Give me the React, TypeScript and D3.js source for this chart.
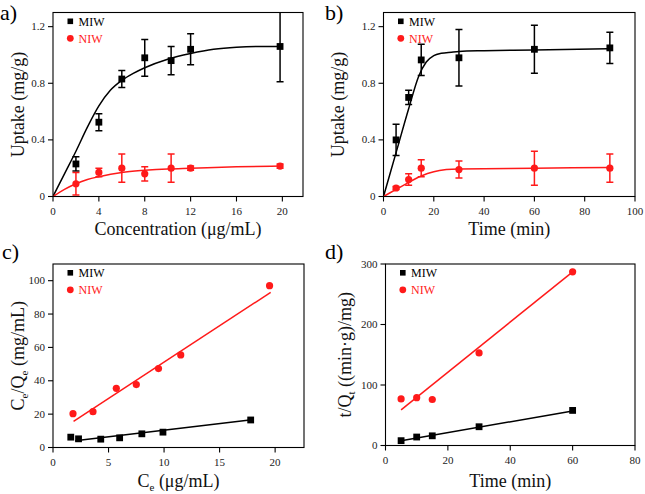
import React from "react";
import * as d3 from "d3";

// ---------- DATA ----------
// Panel a: uptake vs concentration
const aX = [2, 4, 6, 8, 10.3, 12, 19.8];
const aMIW = [0.23, 0.525, 0.83, 0.98, 0.96, 1.04, 1.06];
const aMIWErr = [0.05, 0.06, 0.06, 0.13, 0.1, 0.11, 0.25];
const aNIW = [0.09, 0.17, 0.2, 0.16, 0.2, 0.2, 0.215];
const aNIWErr = [0.08, 0.03, 0.1, 0.05, 0.1, 0.015, 0.015];
const aMIWFitX = [0, 1, 2, 3, 4, 5, 6, 7, 8, 10, 12, 14, 16, 18, 20];
const aMIWFitY = [0, 0.16, 0.32, 0.49, 0.64, 0.75, 0.82, 0.87, 0.91, 0.97, 1.01, 1.04, 1.055, 1.06, 1.06];
const aNIWFitX = [0, 1, 2, 3, 4, 6, 8, 10, 12, 16, 20];
const aNIWFitY = [0, 0.05, 0.09, 0.12, 0.14, 0.17, 0.185, 0.195, 0.2, 0.21, 0.215];

// Panel b: uptake vs time
const bX = [5, 10, 15, 30, 60, 90];
const bMIW = [0.4, 0.7, 0.965, 0.98, 1.04, 1.05];
const bMIWErr = [0.11, 0.05, 0.11, 0.2, 0.17, 0.11];
const bNIW = [0.06, 0.12, 0.2, 0.19, 0.2, 0.2];
const bNIWErr = [0.01, 0.04, 0.06, 0.06, 0.12, 0.1];
const bMIWFitX = [0, 5, 10, 14, 17, 20, 23, 27, 30, 40, 60, 90];
const bMIWFitY = [0, 0.31, 0.62, 0.85, 0.95, 0.995, 1.012, 1.02, 1.025, 1.03, 1.035, 1.045];
const bNIWFitX = [0, 5, 10, 15, 20, 25, 30, 60, 90];
const bNIWFitY = [0, 0.05, 0.1, 0.145, 0.175, 0.19, 0.195, 0.2, 0.205];

// Panel c: Ce/Qe vs Ce
const cMIWX = [1.6, 2.3, 4.3, 6, 8, 9.9, 17.8];
const cMIWY = [6.2, 5.2, 5, 5.8, 8.2, 9.2, 16.5];
const cNIWX = [1.8, 3.6, 5.7, 7.5, 9.5, 11.5, 19.5];
const cNIWY = [20.3, 21.5, 35.5, 37.7, 47.3, 55.5, 97];
const cMIWLineX = [2.0, 17.9];
const cMIWLineY = [4.0, 16.6];
const cNIWLineX = [1.85, 19.6];
const cNIWLineY = [15.6, 93];

// Panel d: t/Qt vs time
const dX = [5, 10, 15, 30, 60];
const dMIW = [8, 14, 16, 31, 58];
const dNIW = [77, 79, 76, 153, 287];
const dMIWLineX = [5, 60];
const dMIWLineY = [8, 57];
const dNIWLineX = [5, 60];
const dNIWLineY = [59, 287];

// Tick labels
const aXTicks = [0, 4, 8, 12, 16, 20];
const bXTicks = [0, 20, 40, 60, 80, 100];
const abYTicks = [0, 0.4, 0.8, 1.2];
const cXTicks = [0, 5, 10, 15, 20];
const cYTicks = [0, 20, 40, 60, 80, 100];
const dXTicks = [0, 20, 40, 60, 80];
const dYTicks = [0, 100, 200, 300];

const RED = "#ff1a1a";
const FONT = "Liberation Serif, DejaVu Serif, serif";
const fs = (size: number): React.CSSProperties => ({ fontFamily: FONT, fontSize: size });

type Pt = { x: number; y: number; e?: number };

function zip(xs: number[], ys: number[], es?: number[]): Pt[] {
  return xs.map((x, i) => ({ x, y: ys[i], e: es ? es[i] : undefined }));
}

interface PanelProps {
  box: { l: number; r: number; t: number; b: number };
  xDomain: [number, number];
  yDomain: [number, number];
  xTicks: number[];
  yTicks: number[];
  yFmt: (v: number) => string;
  label: string;
  xTitle: React.ReactNode;
  yTitle: React.ReactNode;
  yTitleX: number;
  xTitleY: number;
  labelPos: [number, number];
  miw: Pt[];
  niw: Pt[];
  miwFit: Pt[];
  niwFit: Pt[];
  smooth: boolean;
}

function Panel(p: PanelProps) {
  const { box } = p;
  const x = d3.scaleLinear().domain(p.xDomain).range([box.l, box.r]);
  const y = d3.scaleLinear().domain(p.yDomain).range([box.b, box.t]);
  const line = d3
    .line<Pt>()
    .x((d) => x(d.x))
    .y((d) => y(d.y))
    .curve(p.smooth ? d3.curveMonotoneX : d3.curveLinear);
  const clipId = "clip-" + p.label.replace(/\W/g, "");
  const cap = 3.5;
  const renderErr = (pts: Pt[], color: string) =>
    pts
      .filter((d) => d.e !== undefined)
      .map((d, i) => {
        const top = y(d.y + (d.e as number));
        const bot = y(d.y - (d.e as number));
        const cx = x(d.x);
        return (
          <g key={i} stroke={color} strokeWidth={1.5}>
            <line x1={cx} x2={cx} y1={top} y2={bot} />
            <line x1={cx - cap} x2={cx + cap} y1={top} y2={top} />
            <line x1={cx - cap} x2={cx + cap} y1={bot} y2={bot} />
          </g>
        );
      });
  return (
    <g>
      <defs>
        <clipPath id={clipId}>
          <rect x={box.l} y={box.t} width={box.r - box.l} height={box.b - box.t} />
        </clipPath>
      </defs>
      <g clipPath={`url(#${clipId})`}>
        <path d={line(p.miwFit) || ""} fill="none" stroke="#000" strokeWidth={1.5} />
        <path d={line(p.niwFit) || ""} fill="none" stroke={RED} strokeWidth={1.5} />
        {renderErr(p.miw, "#000")}
        {renderErr(p.niw, RED)}
        {p.niw.map((d, i) => (
          <circle key={"n" + i} cx={x(d.x)} cy={y(d.y)} r={3.6} fill={RED} />
        ))}
        {p.miw.map((d, i) => (
          <rect key={"m" + i} x={x(d.x) - 3.4} y={y(d.y) - 3.4} width={6.8} height={6.8} fill="#000" />
        ))}
      </g>
      <rect x={box.l} y={box.t} width={box.r - box.l} height={box.b - box.t} fill="none" stroke="#000" strokeWidth={1.1} />
      {p.xTicks.map((t) => (
        <g key={"xt" + t}>
          <line x1={x(t)} x2={x(t)} y1={box.b} y2={box.b + 5} stroke="#000" strokeWidth={1.1} />
          <text x={x(t)} y={box.b + 18} textAnchor="middle" style={fs(11)} fill="#222">
            {t}
          </text>
        </g>
      ))}
      {p.yTicks.map((t) => (
        <g key={"yt" + t}>
          <line x1={box.l - 5} x2={box.l} y1={y(t)} y2={y(t)} stroke="#000" strokeWidth={1.1} />
          <text x={box.l - 8} y={y(t) + 3.6} textAnchor="end" style={fs(11)} fill="#222">
            {p.yFmt(t)}
          </text>
        </g>
      ))}
      <rect x={box.l + 14.5} y={box.t + 6} width={5.6} height={5.6} fill="#000" />
      <text x={box.l + 25.5} y={box.t + 13} style={fs(12)} fill="#000">MIW</text>
      <circle cx={box.l + 17.3} cy={box.t + 25.8} r={3.4} fill={RED} />
      <text x={box.l + 25.5} y={box.t + 30} style={fs(12)} fill={RED}>NIW</text>
      <text x={(box.l + box.r) / 2} y={p.xTitleY} textAnchor="middle" style={fs(18)} fill="#111">
        {p.xTitle}
      </text>
      <text
        transform={`translate(${p.yTitleX},${(box.t + box.b) / 2}) rotate(-90)`}
        textAnchor="middle"
        style={fs(18)}
        fill="#111"
      >
        {p.yTitle}
      </text>
      <text x={p.labelPos[0]} y={p.labelPos[1]} style={fs(22)} fill="#000">
        {p.label}
      </text>
    </g>
  );
}

export default function App() {
  const fmt1 = (v: number) => (v === 0 ? "0" : v.toFixed(1));
  const fmt0 = (v: number) => String(v);
  return (
    <svg width={645} height={494} style={{ position: "absolute", left: 0, top: 0, background: "#fff" }}>
      <rect width={645} height={494} fill="#fff" />
      <Panel
        box={{ l: 53, r: 303, t: 12.5, b: 196.5 }}
        xDomain={[0, 21.8]}
        yDomain={[0, 1.3]}
        xTicks={aXTicks}
        yTicks={abYTicks}
        yFmt={fmt1}
        label="a)"
        xTitle="Concentration (μg/mL)"
        yTitle="Uptake (mg/g)"
        yTitleX={24}
        xTitleY={235}
        labelPos={[0, 20]}
        miw={zip(aX, aMIW, aMIWErr)}
        niw={zip(aX, aNIW, aNIWErr)}
        miwFit={zip(aMIWFitX, aMIWFitY)}
        niwFit={zip(aNIWFitX, aNIWFitY)}
        smooth={true}
      />
      <Panel
        box={{ l: 383.5, r: 635, t: 12.5, b: 196.5 }}
        xDomain={[0, 100]}
        yDomain={[0, 1.3]}
        xTicks={bXTicks}
        yTicks={abYTicks}
        yFmt={fmt1}
        label="b)"
        xTitle="Time (min)"
        yTitle="Uptake (mg/g)"
        yTitleX={344}
        xTitleY={235}
        labelPos={[325, 20]}
        miw={zip(bX, bMIW, bMIWErr)}
        niw={zip(bX, bNIW, bNIWErr)}
        miwFit={zip(bMIWFitX, bMIWFitY)}
        niwFit={zip(bNIWFitX, bNIWFitY)}
        smooth={true}
      />
      <Panel
        box={{ l: 53, r: 304, t: 264, b: 447.5 }}
        xDomain={[0, 22.6]}
        yDomain={[0, 110]}
        xTicks={cXTicks}
        yTicks={cYTicks}
        yFmt={fmt0}
        label="c)"
        xTitle={
          <>
            C<tspan style={{ fontSize: 11 }} dy={4}>e</tspan>
            <tspan dy={-4}> (μg/mL)</tspan>
          </>
        }
        yTitle={
          <>
            C<tspan style={{ fontSize: 11 }} dy={4}>e</tspan>
            <tspan dy={-4}>/Q</tspan>
            <tspan style={{ fontSize: 11 }} dy={4}>e</tspan>
            <tspan dy={-4}> (mg/mL)</tspan>
          </>
        }
        yTitleX={24}
        xTitleY={487}
        labelPos={[2, 259]}
        miw={zip(cMIWX, cMIWY)}
        niw={zip(cNIWX, cNIWY)}
        miwFit={zip(cMIWLineX, cMIWLineY)}
        niwFit={zip(cNIWLineX, cNIWLineY)}
        smooth={false}
      />
      <Panel
        box={{ l: 385.5, r: 635, t: 264, b: 445.5 }}
        xDomain={[0, 80]}
        yDomain={[0, 300]}
        xTicks={dXTicks}
        yTicks={dYTicks}
        yFmt={fmt0}
        label="d)"
        xTitle="Time (min)"
        yTitle={
          <>
            t/Q<tspan style={{ fontSize: 11 }} dy={4}>t</tspan>
            <tspan dy={-4}> ((min·g)/mg)</tspan>
          </>
        }
        yTitleX={351}
        xTitleY={487}
        labelPos={[325, 259]}
        miw={zip(dX, dMIW)}
        niw={zip(dX, dNIW)}
        miwFit={zip(dMIWLineX, dMIWLineY)}
        niwFit={zip(dNIWLineX, dNIWLineY)}
        smooth={false}
      />
    </svg>
  );
}
